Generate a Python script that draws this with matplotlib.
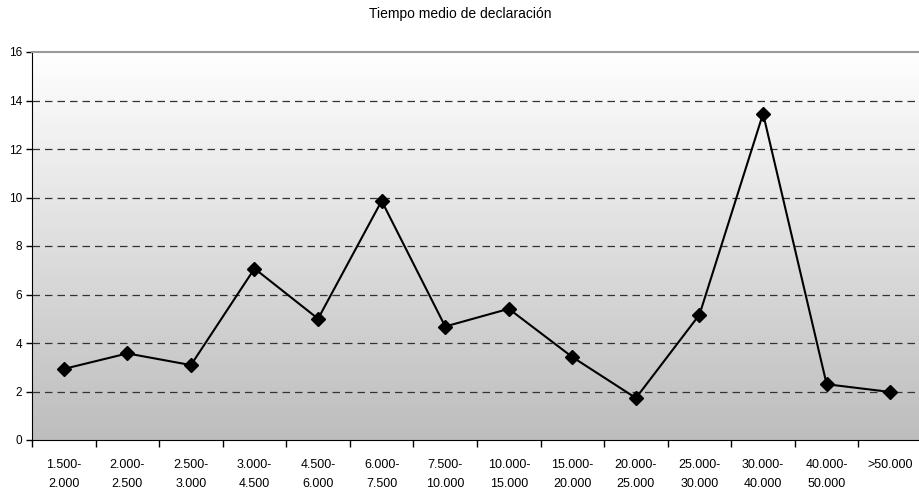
import numpy as np
import matplotlib
matplotlib.use("Agg")
import matplotlib.pyplot as plt
from matplotlib.colors import LinearSegmentedColormap

categories = ["1.500-\n2.000", "2.000-\n2.500", "2.500-\n3.000", "3.000-\n4.500",
              "4.500-\n6.000", "6.000-\n7.500", "7.500-\n10.000", "10.000-\n15.000",
              "15.000-\n20.000", "20.000-\n25.000", "25.000-\n30.000", "30.000-\n40.000",
              "40.000-\n50.000", ">50.000"]
values = [2.93, 3.57, 3.09, 7.07, 5.0, 9.86, 4.68, 5.41, 3.42, 1.73, 5.17, 13.46, 2.3, 1.98]
y_ticks = [0, 2, 4, 6, 8, 10, 12, 14, 16]
title = "Tiempo medio de declaración"

plt.rcParams["font.family"] = ["Liberation Sans", "DejaVu Sans"]

fig = plt.figure(figsize=(9.2, 4.93), dpi=100)
ax = fig.add_axes([32 / 920, 53 / 493, 890 / 920, 388 / 493])

n = len(categories)
x = np.arange(n)

# vertical gradient background: white at top, grey at bottom
grad = np.linspace(0, 1, 256).reshape(-1, 1)
cmap = LinearSegmentedColormap.from_list("bg", ["#ffffff", "#bdbdbd"])
ax.imshow(grad, cmap=cmap, aspect="auto", extent=[-0.5, n - 0.5, 0, 16],
          zorder=0, origin="upper")
ax.set_xlim(-0.5, n - 0.5)
ax.set_ylim(0, 16)

for yv in y_ticks[1:-1]:
    ax.axhline(yv, color="#333333", lw=0.9, ls=(0, (6, 4)), zorder=1)

ax.plot(x, values, color="black", lw=1.5, marker="D", markersize=7,
        markerfacecolor="black", markeredgecolor="black", zorder=3)

ax.set_yticks(y_ticks)
ax.set_yticklabels([str(v) for v in y_ticks], fontsize=8.5)
ax.set_xticks(x)
ax.set_xticklabels(categories, fontsize=9, linespacing=1.75)
ax.set_xticks(np.arange(-0.5, n, 1), minor=True)
ax.tick_params(axis="x", which="major", length=0, pad=14)
ax.tick_params(axis="x", which="minor", length=5, width=1, color="black")
ax.tick_params(axis="y", length=4, width=1, pad=3)

ax.spines["right"].set_visible(False)
ax.spines["top"].set_color("#999999")
ax.spines["top"].set_linewidth(1.5)
ax.spines["left"].set_color("black")
ax.spines["bottom"].set_color("black")

fig.text(0.5, 1 - 14 / 493, title, ha="center", va="center", fontsize=10,
         family=["Liberation Sans Narrow", "Liberation Sans"])

fig.savefig("out.png", dpi=100)
